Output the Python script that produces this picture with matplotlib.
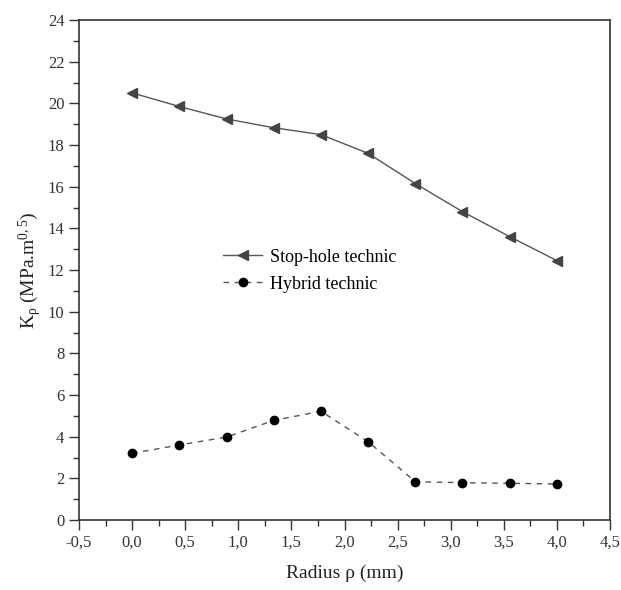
import numpy as np
import matplotlib.pyplot as plt
from matplotlib.ticker import MultipleLocator, FuncFormatter

plt.rcParams['font.family'] = ['Liberation Serif', 'DejaVu Serif']
plt.rcParams['mathtext.fontset'] = 'custom'
plt.rcParams['mathtext.rm'] = 'Liberation Serif'
plt.rcParams['mathtext.it'] = 'Liberation Serif:italic'

# radius of the drilled hole (mm)
radius = [0.0, 0.444, 0.889, 1.333, 1.778, 2.222, 2.667, 3.111, 3.556, 4.0]
# stress intensity factor K_rho (MPa.m^0.5)
k_stop_hole = [20.5, 19.85, 19.25, 18.83, 18.5, 17.6, 16.15, 14.8, 13.6, 12.45]
k_hybrid = [3.2, 3.6, 3.98, 4.78, 5.22, 3.76, 1.84, 1.79, 1.76, 1.73]

fig = plt.figure(figsize=(6.21, 5.90), dpi=100)
ax = fig.add_axes([79 / 621, 70 / 590, 531 / 621, 500 / 590])

ax.plot(radius, k_stop_hole, color='#555555', lw=1.0, marker='<', ms=6.5,
        mfc='#444444', mec='#444444', label='Stop-hole technic')
ax.plot(radius, k_hybrid, color='#555555', lw=1.0, ls=(0, (4, 4)), marker='o', ms=6,
        mfc='black', mec='black', label='Hybrid technic')

ax.set_xlim(-0.5, 4.5)
ax.set_ylim(0, 24)
ax.xaxis.set_major_locator(MultipleLocator(0.5))
ax.xaxis.set_minor_locator(MultipleLocator(0.25))
ax.yaxis.set_major_locator(MultipleLocator(2))
ax.yaxis.set_minor_locator(MultipleLocator(1))
ax.xaxis.set_major_formatter(FuncFormatter(lambda v, p: f'{v:.1f}'.replace('.', ',')))
ax.tick_params(which='both', direction='out', top=False, right=False, colors='#333333',
               labelsize=12)
ax.tick_params(which='major', length=7, width=1)
ax.tick_params(which='minor', length=4, width=1)
for s in ax.spines.values():
    s.set_color('#333333')
    s.set_linewidth(1.2)

ax.set_xlabel('Radius ρ (mm)', fontsize=14, color='#222222', labelpad=10)
ax.set_ylabel(r'K$_\mathrm{ρ}$ (MPa.m$^{0,5}$)', fontsize=14, color='#222222', labelpad=3)

ax.legend(loc='upper left', bbox_to_anchor=(0.24, 0.575), frameon=False, fontsize=13,
          handlelength=2.2, handletextpad=0.4, labelspacing=0.55)

fig.savefig('out.png', dpi=100)
